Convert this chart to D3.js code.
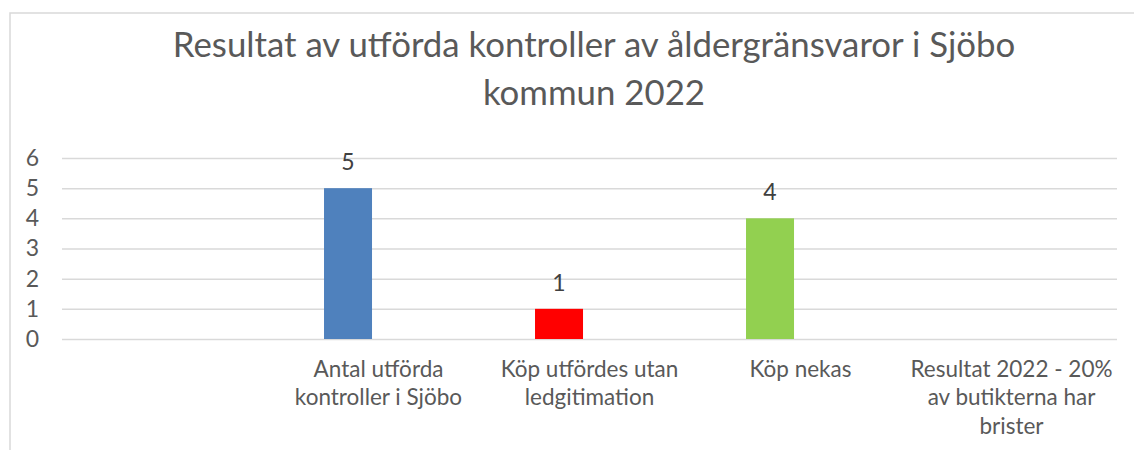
<!DOCTYPE html>
<html>
<head>
<meta charset="utf-8">
<script src="https://cdn.jsdelivr.net/npm/d3@7"></script>
<style>
    body { margin: 0; background: #fff; }
    svg { display: block; font-family: Lato, 'Open Sans', sans-serif; }
</style>
</head>
<body>
<svg width="1134" height="450"></svg>
<script>
// data
const kategorier = ['', 'Antal utförda\nkontroller i Sjöbo', 'Köp utfördes utan\nledgitimation', 'Köp nekas', 'Resultat 2022 - 20%\nav butikterna har\nbrister'];
const varden = [null, 5, 1, 4, null];
const farger = ['#4f81bd', '#4f81bd', '#ff0000', '#92d050', '#4f81bd'];
const yTicks = [0, 1, 2, 3, 4, 5, 6];
const titelRader = ['Resultat av utförda kontroller av åldergränsvaror i Sjöbo', 'kommun 2022'];

const margens = { left: 62, right: 17, top: 158, bottom: 111 };
const svg = d3.select('svg');
const svgWidth = +svg.attr('width');
const svgHeight = +svg.attr('height');
const innerWidth = svgWidth - margens.left - margens.right;
const innerHeight = svgHeight - margens.top - margens.bottom;
const textColor = '#595959';

// ram runt diagrammet (bara vänster- och överkant syns)
svg.append('path')
    .attr('d', `M10,${svgHeight} V13 H${svgWidth}`)
    .attr('fill', 'none')
    .attr('stroke', '#d9d9d9')
    .attr('stroke-width', 1.5);

// titel
svg.append('text')
    .attr('text-anchor', 'middle')
    .attr('fill', textColor)
    .style('font-size', '34.8px')
    .selectAll('tspan')
    .data(titelRader)
    .join('tspan')
    .attr('x', 594)
    .attr('y', (d, i) => 57 + i * 48)
    .text(d => d);

const g = svg.append('g')
    .attr('transform', `translate(${margens.left}, ${margens.top})`);

const mapX = d3.scaleBand().domain(kategorier).range([0, innerWidth]).padding(0);
const mapSerie = d3.scaleBand().domain(['Antal']).range([0, mapX.bandwidth()])
    .paddingOuter(1.698).align(0.313);
const mapY = d3.scaleLinear().domain([0, 6]).range([innerHeight, 0]);

//---- Y-axel med stödlinjer
const yAxis = d3.axisLeft(mapY)
    .tickValues(yTicks)
    .tickFormat(d3.format('d'))
    .tickSize(-innerWidth)
    .tickPadding(23);
g.append('g')
    .attr('class', 'y axis')
    .call(yAxis)
    .call(a => a.select('.domain').remove())
    .call(a => a.selectAll('line').attr('stroke', '#d9d9d9').attr('stroke-width', 1.5))
    .call(a => a.selectAll('text')
        .attr('fill', textColor)
        .style('font-size', '23px')
        .style('font-family', 'Lato, sans-serif'));

//---- X-etiketter
const xLabels = g.append('g')
    .attr('class', 'x axis')
    .attr('transform', `translate(0, ${innerHeight})`)
    .selectAll('text')
    .data(kategorier)
    .join('text')
    .attr('text-anchor', 'middle')
    .attr('fill', textColor)
    .style('font-size', '22.5px');
xLabels.selectAll('tspan')
    .data(d => d.split('\n').map(t => ({ t, x: mapX(d) + mapX.bandwidth() / 2 })))
    .join('tspan')
    .attr('x', d => d.x)
    .attr('y', (d, i) => 37.5 + i * 28.5)
    .text(d => d.t);

//---- Staplar
const data = kategorier.map((k, i) => ({ kategori: k, varde: varden[i], farg: farger[i] }))
    .filter(d => d.varde != null);

g.append('g')
    .attr('class', 'bars')
    .selectAll('rect')
    .data(data)
    .join('rect')
    .attr('x', d => mapX(d.kategori) + mapSerie('Antal'))
    .attr('y', d => mapY(d.varde))
    .attr('width', mapSerie.bandwidth())
    .attr('height', d => mapY(0) - mapY(d.varde))
    .attr('fill', d => d.farg);

//---- Dataetiketter
g.append('g')
    .attr('class', 'labels')
    .selectAll('text')
    .data(data)
    .join('text')
    .attr('x', d => mapX(d.kategori) + mapSerie('Antal') + mapSerie.bandwidth() / 2)
    .attr('y', d => mapY(d.varde) - 18)
    .attr('text-anchor', 'middle')
    .attr('fill', '#404040')
    .style('font-size', '23px')
    .text(d => d.varde);
</script>
</body>
</html>
